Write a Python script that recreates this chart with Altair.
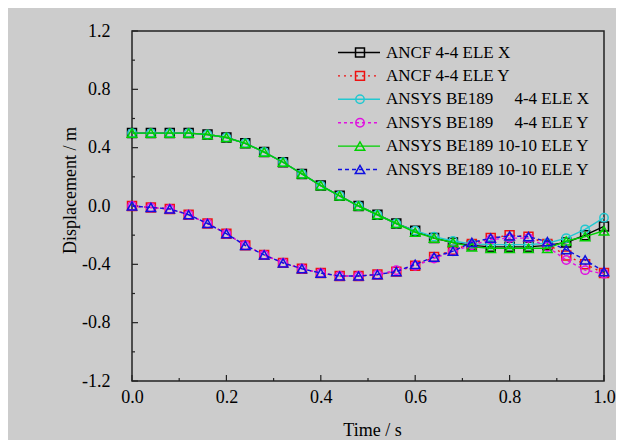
import altair as alt
import pandas as pd

# ---------------- data ----------------
time_s = [0.00, 0.04, 0.08, 0.12, 0.16, 0.20, 0.24, 0.28, 0.32, 0.36, 0.40, 0.44, 0.48,
          0.52, 0.56, 0.60, 0.64, 0.68, 0.72, 0.76, 0.80, 0.84, 0.88, 0.92, 0.96, 1.00]

ancf_x = [0.50, 0.50, 0.50, 0.50, 0.49, 0.47, 0.43, 0.37, 0.30, 0.22, 0.14, 0.07, 0.00,
          -0.06, -0.12, -0.17, -0.22, -0.25, -0.27, -0.28, -0.28, -0.28, -0.27, -0.25, -0.20, -0.14]
ancf_y = [0.00, -0.01, -0.02, -0.06, -0.12, -0.19, -0.27, -0.335, -0.39, -0.43, -0.46, -0.48, -0.48,
          -0.47, -0.45, -0.41, -0.35, -0.30, -0.26, -0.22, -0.20, -0.21, -0.26, -0.34, -0.40, -0.46]
ansys44_x = [0.50, 0.50, 0.50, 0.50, 0.49, 0.47, 0.43, 0.37, 0.30, 0.22, 0.14, 0.07, 0.00,
             -0.06, -0.12, -0.17, -0.21, -0.24, -0.26, -0.265, -0.265, -0.265, -0.255, -0.22, -0.16, -0.08]
ansys44_y = [0.00, -0.01, -0.02, -0.06, -0.12, -0.19, -0.27, -0.335, -0.39, -0.43, -0.46, -0.48, -0.48,
             -0.47, -0.44, -0.41, -0.36, -0.31, -0.27, -0.23, -0.22, -0.22, -0.28, -0.37, -0.44, -0.465]
ansys1010_x = [0.50, 0.50, 0.50, 0.50, 0.49, 0.47, 0.43, 0.37, 0.30, 0.22, 0.14, 0.07, 0.00,
               -0.06, -0.12, -0.18, -0.22, -0.25, -0.28, -0.29, -0.29, -0.29, -0.29, -0.24, -0.21, -0.17]
ansys1010_y = [0.00, -0.01, -0.02, -0.06, -0.12, -0.19, -0.27, -0.335, -0.39, -0.43, -0.46, -0.48, -0.48,
               -0.47, -0.45, -0.40, -0.35, -0.31, -0.25, -0.22, -0.205, -0.21, -0.245, -0.30, -0.37, -0.45]

labels = [
    "ANCF 4-4 ELE X",
    "ANCF 4-4 ELE Y",
    "ANSYS BE189\u00a0\u00a0\u00a0\u00a0\u00a04-4 ELE X",
    "ANSYS BE189\u00a0\u00a0\u00a0\u00a0\u00a04-4 ELE Y",
    "ANSYS BE189 10-10 ELE Y",
    "ANSYS BE189 10-10 ELE Y",
]
values = [ancf_x, ancf_y, ansys44_x, ansys44_y, ansys1010_x, ansys1010_y]
colors = ["#000000", "#ee1111", "#22c8d0", "#e010e0", "#00d000", "#1010e0"]
dashes = [None, [2, 4], None, [3, 3], None, [4, 3]]
shapes = ["square", "square", "circle", "circle", "triangle-up", "triangle-up"]
sizes = [80, 80, 70, 70, 90, 90]

x_major = [0.0, 0.2, 0.4, 0.6, 0.8, 1.0]
x_minor = [0.1, 0.3, 0.5, 0.7, 0.9]
y_major = [-1.2, -0.8, -0.4, 0.0, 0.4, 0.8, 1.2]
y_minor = [-1.0, -0.6, -0.2, 0.2, 0.6, 1.0]

FONT = "Liberation Serif"
W, H = 472, 350

label_expr = "datum.value < 0 ? '-' + format(-datum.value, '.1f') : format(datum.value, '.1f')"

x_scale = alt.Scale(domain=[0, 1], nice=False, zero=False)
y_scale = alt.Scale(domain=[-1.2, 1.2], nice=False, zero=False)

x_axis = alt.Axis(values=x_major, labelExpr=label_expr, ticks=False, tickSize=0, domain=False,
                  grid=False, labelFont=FONT, labelFontSize=18, labelColor="black",
                  labelPadding=7, labelFlush=False, labelOverlap=False,
                  title="Time / s", titleFont=FONT, titleFontSize=18, titleFontWeight="normal",
                  titleColor="black", titleX=240, titleY=49, titleBaseline="middle",
                  titleAlign="center")
y_axis = alt.Axis(values=y_major, labelExpr=label_expr, ticks=False, tickSize=0, domain=False,
                  grid=False, labelFont=FONT, labelFontSize=18, labelColor="black",
                  labelPadding=22, labelFlush=False, labelOverlap=False,
                  title="Displacement / m", titleFont=FONT, titleFontSize=18,
                  titleFontWeight="normal", titleColor="black", titleX=-62, titleY=159,
                  titleAngle=270, titleBaseline="middle", titleAlign="center")


def X(field):
    return alt.X(f"{field}:Q", scale=x_scale, axis=x_axis)


def Y(field):
    return alt.Y(f"{field}:Q", scale=y_scale, axis=y_axis)


layers = []

# inward ticks
for vals, ln in ((x_major, 6), (x_minor, 3)):
    layers.append(
        alt.Chart(pd.DataFrame({"v": vals})).mark_rule(color="#222222", strokeWidth=1.2).encode(
            x=X("v"), y=alt.value(H), y2=alt.value(H - ln))
    )
for vals, ln in ((y_major, 6), (y_minor, 3)):
    layers.append(
        alt.Chart(pd.DataFrame({"v": vals})).mark_rule(color="#222222", strokeWidth=1.2).encode(
            y=Y("v"), x=alt.value(0), x2=alt.value(ln))
    )

# data series
for i in range(6):
    df = pd.DataFrame({"t": time_s, "d": values[i]})
    line_kw = dict(color=colors[i], strokeWidth=1.4)
    if dashes[i] is not None:
        line_kw["strokeDash"] = dashes[i]
    layers.append(alt.Chart(df).mark_line(**line_kw).encode(x=X("t"), y=Y("d")))
    layers.append(
        alt.Chart(df).mark_point(shape=shapes[i], size=sizes[i], filled=False,
                                 color=colors[i], strokeWidth=1.5, opacity=1).encode(
            x=X("t"), y=Y("d"))
    )

# manual legend (pixel layout)
for i in range(6):
    yy = 21.5 + i * 23.4
    ldf = pd.DataFrame({"label": [labels[i]]})
    rule_kw = dict(color=colors[i], strokeWidth=1.4)
    if dashes[i] is not None:
        rule_kw["strokeDash"] = dashes[i]
    layers.append(alt.Chart(ldf).mark_rule(**rule_kw).encode(
        x=alt.value(206), x2=alt.value(248), y=alt.value(yy)))
    layers.append(alt.Chart(ldf).mark_point(shape=shapes[i], size=sizes[i], filled=False,
                                            color=colors[i], strokeWidth=1.5, opacity=1).encode(
        x=alt.value(228), y=alt.value(yy)))
    layers.append(alt.Chart(ldf).mark_text(font=FONT, fontSize=17, color="black", align="left",
                                           baseline="middle").encode(
        x=alt.value(254), y=alt.value(yy), text="label:N"))

chart = alt.layer(*layers).properties(
    width=W, height=H, background="#cccccc",
    padding={"left": 124, "top": 23, "right": 12, "bottom": 59},
    autosize=alt.AutoSizeParams(type="none"),
).configure_view(stroke="#222222", strokeWidth=1.5)

chart.save("out.html", embed_options={"renderer": "svg", "actions": False})
